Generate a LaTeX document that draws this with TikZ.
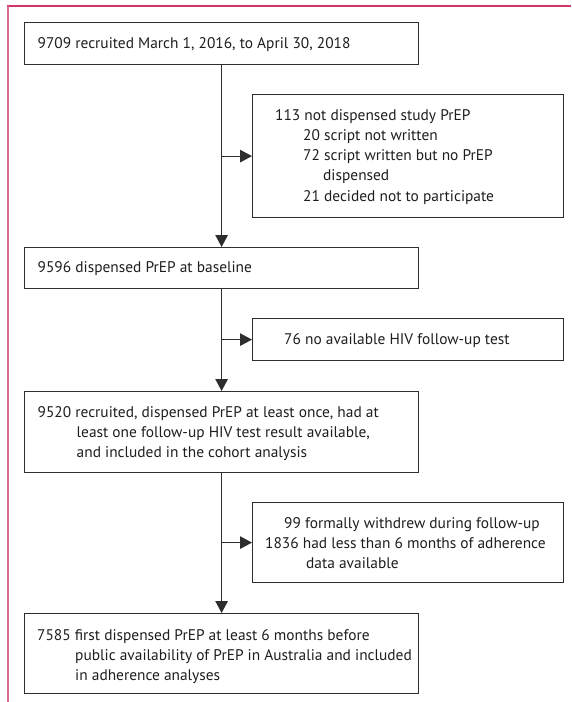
\documentclass[tikz,border=0pt]{standalone}
\usepackage{fontspec}
\setmainfont{PT Sans}
\usetikzlibrary{arrows.meta}
\definecolor{frameT}{RGB}{212,52,100}
\definecolor{frameL}{RGB}{220,105,145}
\definecolor{ln}{RGB}{45,45,45}
\definecolor{txtc}{RGB}{30,30,30}
\begin{document}
\begin{tikzpicture}[x=1pt,y=-1pt,
  mainbox/.style={draw=ln, line width=1.2pt, inner sep=0pt, anchor=north west, minimum width=394pt},
  sidebox/.style={draw=ln, line width=1.2pt, inner sep=0pt, anchor=north west, minimum width=311pt},
  txt/.style={anchor=base west, align=left, inner sep=0pt, font=\fontsize{15.4}{20.3}\selectfont, text=txtc},
  conn/.style={draw=ln, line width=1.2pt, -{Triangle[length=12pt,width=12.5pt]}}]
\useasboundingbox (0,0) rectangle (571,702);
\draw[frameT, line width=2pt] (571,6) -- (7.2,6);
\draw[frameL, line width=1.6pt] (8,6) -- (8,702);
% boxes
\node[mainbox, minimum height=42pt] (b1) at (24,22) {};
\node[sidebox, minimum height=123pt] (s1) at (252,94) {};
\node[mainbox, minimum height=41pt] (b2) at (24,247) {};
\node[sidebox, minimum height=42pt] (s2) at (252,318) {};
\node[mainbox, minimum height=81pt] (b3) at (24,391) {};
\node[sidebox, minimum height=80pt] (s3) at (252,502) {};
\node[mainbox, minimum height=80pt] (b4) at (24,613) {};
% texts (multi-line nodes: base = baseline of last line)
\node[txt] (t1) at (37.5,48) {9709 recruited March 1, 2016, to April 30, 2018};
\node[txt] (u1) at (275,201.2) {113 not dispensed study PrEP\\
\hspace*{28pt}20 script not written\\
\hspace*{28pt}72 script written but no PrEP\\
\hspace*{48pt}dispensed\\
\hspace*{28pt}21 decided not to participate};
\node[txt] (t2) at (37.5,272) {9596 dispensed PrEP at baseline};
\node[txt] (u2) at (284,344) {76 no available HIV follow-up test};
\node[txt] (t3) at (37.5,457.6) {9520 recruited, dispensed PrEP at least once, had at\\
\hspace*{39pt}least one follow-up HIV test result available,\\
\hspace*{39pt}and included in the cohort analysis};
\node[txt] (u3) at (265,568.6) {\hspace*{19pt}99 formally withdrew during follow-up\\
1836 had less than 6 months of adherence\\
\hspace*{41pt}data available};
\node[txt] (t4) at (37,680.6) {7585 first dispensed PrEP at least 6 months before\\
\hspace*{38pt}public availability of PrEP in Australia and included\\
\hspace*{38pt}in adherence analyses};
% connectors
\draw[conn] (b1.south) -- (b2.north);
\draw[conn] (b1.south |- s1.west) -- (s1.west);
\draw[conn] (b2.south) -- (b3.north);
\draw[conn] (b2.south |- s2.west) -- (s2.west);
\draw[conn] (b3.south) -- (b4.north);
\draw[conn] (b3.south |- s3.west) -- (s3.west);
\end{tikzpicture}
\end{document}
